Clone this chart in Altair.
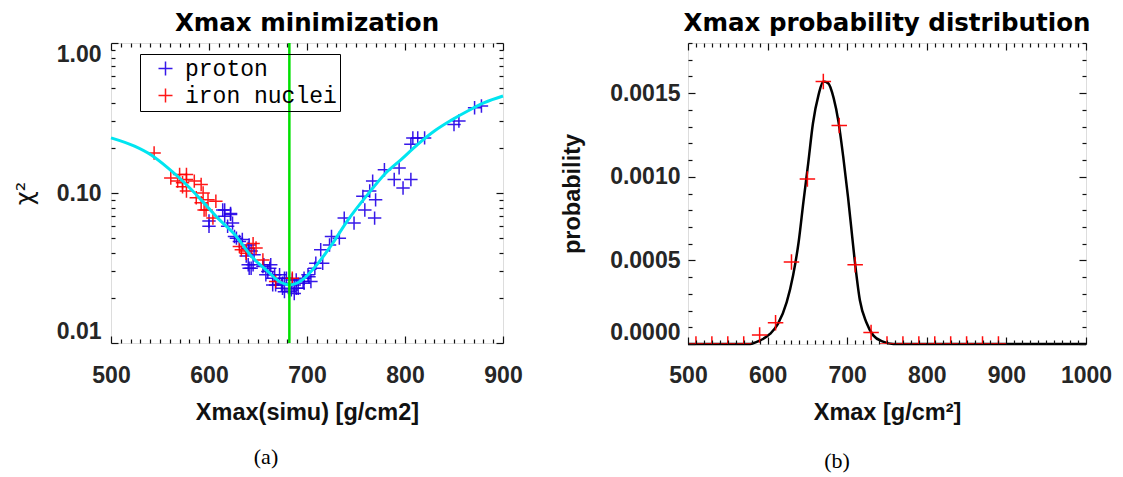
import altair as alt
import pandas as pd

# ---------------- panel (a): Xmax minimization ----------------
proton_x = [616, 622, 616, 600, 600, 624, 619, 628, 634, 641, 643, 638, 645, 641, 655,
            662, 658, 665, 668, 675, 675, 682, 689, 696, 689, 701, 672, 679, 665,
            663, 667, 674, 691, 697, 702, 685, 677, 687,
            677, 687, 684, 697, 704, 708, 709, 716, 714, 723, 725, 733, 738, 748, 759,
            757, 764, 770, 769, 767, 779, 794, 789, 806, 798, 806, 808, 813, 820, 850,
            855, 871, 878,
            614, 622, 626, 631, 640, 640, 646, 643, 656, 660]
proton_y = [0.077, 0.073, 0.070, 0.065, 0.060, 0.063, 0.060, 0.050, 0.049, 0.045, 0.041,
            0.038, 0.0332, 0.0315, 0.0323, 0.0315, 0.0285, 0.027, 0.0244, 0.025, 0.0232,
            0.022, 0.0232, 0.0257, 0.0263, 0.0285, 0.0285, 0.027, 0.0244,
            0.0332, 0.0285, 0.0244, 0.0232, 0.025, 0.0277, 0.0263, 0.022, 0.0214,
            0.027, 0.0244, 0.0226, 0.027, 0.0257, 0.0315, 0.034, 0.034, 0.0418, 0.045,
            0.0513, 0.050, 0.068, 0.063, 0.077, 0.095, 0.103, 0.090, 0.068, 0.120, 0.143,
            0.147, 0.123, 0.123, 0.108, 0.211, 0.233, 0.233, 0.233, 0.286, 0.302, 0.370,
            0.380,
            0.077, 0.072, 0.0513, 0.0475, 0.0429, 0.0332, 0.0387, 0.0315, 0.0332, 0.030]
iron_x = [544, 561, 570, 577, 573, 577, 568, 592, 594, 587, 599, 607, 592, 597, 631,
          638, 645, 648, 655, 685, 668, 595, 604, 633, 638, 585, 573, 577]
iron_y = [0.185, 0.126, 0.133, 0.133, 0.117, 0.103, 0.120, 0.114, 0.100, 0.093, 0.090,
          0.088, 0.086, 0.077, 0.044, 0.041, 0.046, 0.043, 0.0358, 0.027, 0.0257, 0.077,
          0.068, 0.0418, 0.0397, 0.120, 0.110, 0.123]
fit_x = [500, 524, 541, 558, 575, 592, 609, 626, 643, 660, 673, 682, 694, 707, 724,
         741, 762, 779, 796, 813, 830, 847, 864, 881, 900]
fit_y = [0.233, 0.205, 0.179, 0.147, 0.117, 0.090, 0.068, 0.053, 0.038, 0.030, 0.0254,
         0.0244, 0.026, 0.0315, 0.044, 0.065, 0.098, 0.133, 0.167, 0.211, 0.259, 0.305,
         0.352, 0.400, 0.443]
best_xmax = [682]
series_names = ["proton", "iron nuclei"]

# ---------------- panel (b): Xmax probability distribution ----------------
bin_x = [510, 530, 550, 570, 590, 610, 630, 650, 670, 690, 710, 730, 750, 770, 790,
         810, 830, 850, 870, 890]
bin_p = [0, 0, 0, 0, 0.000054, 0.000127, 0.00049, 0.000986, 0.00157, 0.001307,
         0.000474, 0.000069, 0, 0, 0, 0, 0, 0, 0, 0]
gauss_x = [500, 565, 578, 590, 603, 613, 624, 632, 639, 645, 651, 657, 664, 670, 676,
           683, 689, 695, 701, 705, 709, 716, 724, 733, 745, 758, 800, 1000]
gauss_p = [0, 0, 0.0000005, 0.00002, 0.00006, 0.00012, 0.00025, 0.00041, 0.00061,
           0.00085, 0.00108, 0.00132, 0.00149, 0.00157, 0.00156, 0.00147, 0.00133,
           0.00112, 0.00088, 0.00070, 0.00052, 0.00026, 0.00013, 0.00005, 0.000014, 0,
           0, 0]

# ---------------- tick values ----------------
a_x_major = [500, 600, 700, 800, 900]
a_x_minor = [v for v in range(510, 900, 10) if v % 100]
a_y_major = [0.01, 0.1, 1.0]
a_y_minor = [round(m * d, 3) for d in (0.01, 0.1) for m in range(2, 10)]
b_x_major = [500, 600, 700, 800, 900, 1000]
b_x_minor = [v for v in range(510, 1000, 10) if v % 100]
b_y_major = [0.0, 0.0005, 0.0010, 0.0015]
b_y_minor = [round(k * 0.0001, 4) for k in range(1, 19) if k % 5]

# ---------------- tables ----------------
pts_a = pd.DataFrame({
    "x": proton_x + iron_x,
    "y": proton_y + iron_y,
    "series": [series_names[0]] * len(proton_x) + [series_names[1]] * len(iron_x),
})
fit_a = pd.DataFrame({"x": fit_x, "y": fit_y})
best_a = pd.DataFrame({"x": best_xmax})
pts_b = pd.DataFrame({"x": bin_x, "p": bin_p})
fit_b = pd.DataFrame({"x": gauss_x, "p": gauss_p})

CROSS = "M-1,0H1M0,-1V1"
LBL = dict(labelFont="Liberation Sans", labelFontWeight="bold", labelFontSize=23,
           labelColor="#262626")
TTL = dict(titleFont="Liberation Sans", titleFontWeight="bold", titleFontSize=23.5,
           titleColor="#111111")


def axis(orient, values, size, **kw):
    base = dict(orient=orient, values=values, tickSize=size, offset=-size,
                domain=False, grid=False, ticks=True, tickColor="#111111",
                tickWidth=1.2, zindex=1)
    if "labels" not in kw:
        base["labels"] = False
    if "title" not in kw:
        base["title"] = None
    base.update(kw)
    return alt.Axis(**base)


def holders(df, xf, yf, xs, ys, axes):
    layers = []
    for xa, ya in axes:
        layers.append(
            alt.Chart(df).mark_point(opacity=0).encode(
                x=alt.X(xf, type="quantitative", scale=xs, axis=xa),
                y=alt.Y(yf, type="quantitative", scale=ys, axis=ya),
            )
        )
    return layers


# ---------- panel (a) ----------
xs_a = alt.Scale(domain=[500, 900], nice=False, zero=False)
ys_a = alt.Scale(type="log", domain=[0.01, 1.0], nice=False)

axes_a = [
    (axis("bottom", a_x_major, 7, labels=True, labelPadding=21, labelFlush=False,
          format="d", title="Xmax(simu) [g/cm2]", titlePadding=13, **LBL, **TTL),
     axis("left", a_y_major, 7, labels=True, labelPadding=10, labelFlush=True,
          format=".2f", title="χ²", titleFont="DejaVu Sans", titleFontWeight="normal",
          titleFontSize=24, titleColor="#111111", titlePadding=19,
          labelFont="Liberation Sans", labelFontWeight="bold", labelFontSize=23,
          labelColor="#262626")),
    (axis("bottom", a_x_minor, 4), axis("left", a_y_minor, 4)),
    (axis("top", a_x_major, 7), axis("right", a_y_major, 7)),
    (axis("top", a_x_minor, 4), axis("right", a_y_minor, 4)),
]

points_a = alt.Chart(pts_a).mark_point(
    shape=CROSS, filled=False, size=180, strokeWidth=1.5, opacity=0.9
).encode(
    x=alt.X("x:Q", scale=xs_a, axis=None),
    y=alt.Y("y:Q", scale=ys_a, axis=None),
    color=alt.Color(
        "series:N",
        scale=alt.Scale(domain=series_names, range=["#2200e8", "#ff0000"]),
        legend=alt.Legend(
            title=None, orient="none", legendX=29, legendY=11, strokeColor="black",
            padding=3, labelFont="Liberation Mono", labelFontSize=23, labelLimit=400,
            labelColor="black", symbolType=CROSS, symbolSize=196,
            symbolStrokeWidth=1.5, symbolOffset=11, labelOffset=8, rowPadding=3,
        ),
    ),
)
curve_a = alt.Chart(fit_a).mark_line(
    color="#00e5f0", strokeWidth=3, interpolate="monotone"
).encode(
    x=alt.X("x:Q", scale=xs_a, axis=None),
    y=alt.Y("y:Q", scale=ys_a, axis=None),
)
best_line = alt.Chart(best_a).mark_rule(color="#00e000", strokeWidth=2.5).encode(
    x=alt.X("x:Q", scale=xs_a, axis=None)
)
cap_a = alt.Chart(pd.DataFrame({"t": ["(a)"]})).mark_text(
    font="Liberation Serif", fontSize=22, color="black", baseline="middle"
).encode(text="t:N", x=alt.value(155), y=alt.value(414))

panel_a = alt.layer(
    *holders(fit_a, "x", "y", xs_a, ys_a, axes_a),
    points_a, curve_a, best_line, cap_a,
).resolve_axis(x="independent", y="independent").properties(
    width=392, height=300,
    title=alt.TitleParams(text="Xmax minimization", font="DejaVu Sans", fontSize=24.5,
                          fontWeight="bold", color="black", anchor="middle",
                          offset=5),
)

# ---------- panel (b) ----------
xs_b = alt.Scale(domain=[500, 1000], nice=False, zero=False)
ys_b = alt.Scale(domain=[0, 0.0018], nice=False, zero=False)

axes_b = [
    (axis("bottom", b_x_major, 7, labels=True, labelPadding=20, labelFlush=False,
          format="d", title="Xmax [g/cm²]", titlePadding=13, **LBL, **TTL),
     axis("left", b_y_major, 7, labels=True, labelPadding=8, labelFlush=True,
          format=".4f", title="probability", titlePadding=25, **LBL, **TTL)),
    (axis("bottom", b_x_minor, 4), axis("left", b_y_minor, 4)),
    (axis("top", b_x_major, 7), axis("right", b_y_major, 7)),
    (axis("top", b_x_minor, 4), axis("right", b_y_minor, 4)),
]

curve_b = alt.Chart(fit_b).mark_line(
    color="black", strokeWidth=2.5, interpolate="monotone"
).encode(
    x=alt.X("x:Q", scale=xs_b, axis=None),
    y=alt.Y("p:Q", scale=ys_b, axis=None),
)
points_b = alt.Chart(pts_b).mark_point(
    shape=CROSS, filled=False, size=240, strokeWidth=1.5, color="#ff0000",
    opacity=0.95, clip=True
).encode(
    x=alt.X("x:Q", scale=xs_b, axis=None),
    y=alt.Y("p:Q", scale=ys_b, axis=None),
)
cap_b = alt.Chart(pd.DataFrame({"t": ["(b)"]})).mark_text(
    font="Liberation Serif", fontSize=22, color="black", baseline="middle"
).encode(text="t:N", x=alt.value(149), y=alt.value(418))

panel_b = alt.layer(
    *holders(fit_b, "x", "p", xs_b, ys_b, axes_b),
    curve_b, points_b, cap_b,
).resolve_axis(x="independent", y="independent").properties(
    width=398, height=301,
    title=alt.TitleParams(text="Xmax probability distribution", font="DejaVu Sans",
                          fontSize=24.5, fontWeight="bold", color="black",
                          anchor="middle", offset=6),
)

chart = alt.hconcat(panel_a, panel_b, spacing=37).resolve_legend(
    color="independent"
).properties(
    padding={"left": 4, "top": 2, "right": 0, "bottom": 0}
).configure_view(stroke="black", strokeWidth=1.3).configure(background="white")

chart.save("out.html", embed_options={"renderer": "svg", "actions": False})
